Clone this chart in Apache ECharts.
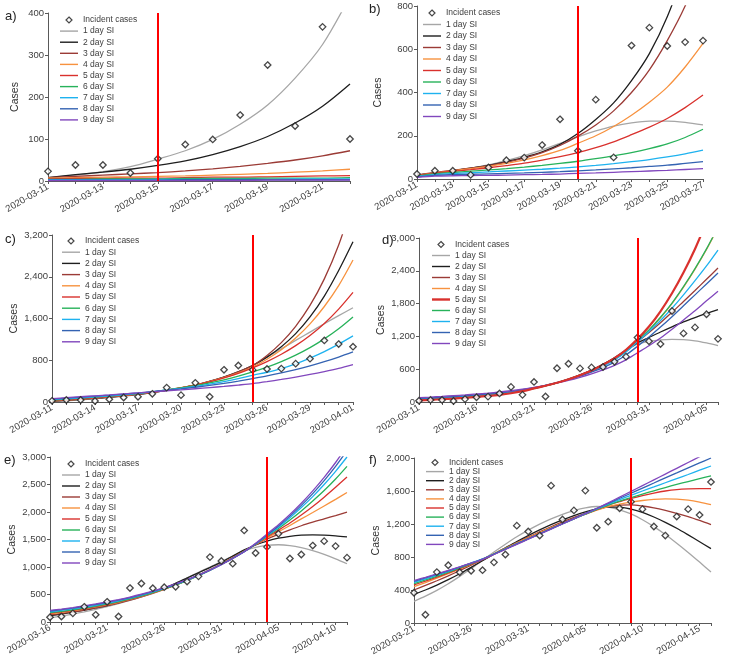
<!DOCTYPE html>
<html><head><meta charset="utf-8">
<script src="https://cdn.jsdelivr.net/npm/echarts@6/dist/echarts.min.js"></script>
<style>html,body{margin:0;padding:0;background:#fff}#c{width:733px;height:669px}</style>
</head><body><div id="c"></div>
<script>
// ---------- categories ----------
const dates = ['2020-03-11','2020-03-12','2020-03-13','2020-03-14','2020-03-15','2020-03-16','2020-03-17','2020-03-18','2020-03-19','2020-03-20',
 '2020-03-21','2020-03-22','2020-03-23','2020-03-24','2020-03-25','2020-03-26','2020-03-27','2020-03-28','2020-03-29','2020-03-30','2020-03-31',
 '2020-04-01','2020-04-02','2020-04-03','2020-04-04','2020-04-05','2020-04-06','2020-04-07','2020-04-08','2020-04-09','2020-04-10',
 '2020-04-11','2020-04-12','2020-04-13','2020-04-14','2020-04-15','2020-04-16'];
// ---------- observed incident cases ----------
const incident = [23,38,38,19,53,87,99,157,276,131,367,100,617,700,615,633,640,735,830,1180,1110,
 1060,1665,1255,1365,1605,1155,1228,1390,1470,1380,1170,1060,1290,1380,1310,1710];
const siNames = ['1 day SI','2 day SI','3 day SI','4 day SI','5 day SI','6 day SI','7 day SI','8 day SI','9 day SI'];

// ---------- panel a (2020-03-11 .. 2020-03-22) ----------
const aSI = [
 [8,14,22,34,52,72,99,135,181,245,325,440],
 [8,15,21,28,37,48,63,82,106,138,178,231],
 [8,11,14,17,20,24,29,35,42,50,60,72],
 [7,8,9,10,11,12,14,16,18,21,24,28],
 [5,6,6,7,7,8,9,9,10,11,12,13],
 [4,4,5,5,5,6,6,6,7,7,7,8],
 [3,3,3,3,4,4,4,4,4,5,5,5],
 [2,2,2,2,2,3,3,3,3,3,3,3],
 [1,1,1,1,1,1,1,1,2,2,2,2]
];
// ---------- panel b (2020-03-11 .. 2020-03-27) ----------
const bSI = [
 [18,27,37,50,65,85,108,135,165,195,222,245,260,268,268,262,250],
 [18,28,38,50,63,80,100,125,160,210,275,352,455,580,750,980,1280],
 [18,30,40,50,62,78,97,122,155,198,250,315,400,505,640,800,1000],
 [15,28,38,48,58,72,88,108,132,165,200,243,295,355,425,518,627],
 [15,27,35,43,52,62,73,87,103,122,145,172,205,240,280,330,388],
 [14,24,30,36,42,48,55,63,72,82,94,107,122,140,162,192,230],
 [12,20,25,29,33,37,41,45,50,56,63,71,80,90,102,116,133],
 [10,17,20,22,24,26,28,31,34,38,42,47,52,58,64,72,80],
 [8,13,15,16,17,18,20,21,23,26,28,31,34,37,40,44,48]
];
// ---------- panel c (2020-03-11 .. 2020-04-01) ----------
const cSI = [
 [8,24,42,62,85,110,140,178,222,270,328,398,480,582,700,860,1020,1180,1340,1500,1655,1805],
 [15,32,50,70,92,117,146,182,225,272,328,397,479,579,700,860,1060,1310,1630,2030,2520,3070],
 [20,36,54,74,96,121,150,185,225,272,328,397,479,579,700,893,1138,1451,1850,2359,3008,3835],
 [22,39,57,77,100,125,154,188,228,273,327,391,468,560,670,820,1000,1225,1497,1830,2230,2720],
 [25,42,60,80,102,127,156,190,228,272,324,386,460,549,655,775,915,1080,1275,1505,1780,2100],
 [38,55,73,92,113,136,163,195,232,270,314,366,426,496,576,668,775,899,1043,1210,1404,1630],
 [45,62,80,99,119,141,166,196,230,263,300,343,392,448,512,570,640,730,840,965,1108,1267],
 [55,73,92,111,131,152,174,198,225,252,283,317,356,400,449,500,558,622,694,773,862,960],
 [65,83,101,119,137,156,175,195,216,234,254,276,299,325,353,390,432,478,528,584,646,718]
];
// ---------- panel d (2020-03-11 .. 2020-04-06) ----------
const dSI = [
 [40,52,64,78,94,112,132,155,182,215,255,300,355,420,495,585,690,810,955,1060,1110,1138,1147,1142,1120,1080,1030],
 [35,46,58,71,86,103,122,144,171,205,248,296,352,418,495,585,690,810,940,1080,1180,1280,1375,1465,1545,1620,1690],
 [40,51,62,75,89,105,123,145,172,207,250,298,352,415,488,572,670,785,925,1100,1270,1450,1640,1840,2040,2245,2450],
 [38,48,59,71,85,101,120,142,170,205,250,298,352,415,488,572,672,790,935,1120,1310,1540,1800,2100,2430,2790,3190],
 [30,40,51,63,77,93,111,132,160,198,248,298,352,415,490,575,680,800,955,1150,1380,1660,1990,2370,2800,3300,3850],
 [45,56,67,80,94,110,128,150,177,210,253,300,352,414,485,568,666,782,925,1130,1320,1550,1810,2110,2440,2800,3200],
 [55,66,77,90,104,120,138,159,185,217,257,302,353,413,482,562,655,770,915,1100,1290,1490,1715,1960,2220,2490,2780],
 [65,76,88,101,115,131,149,170,195,226,263,305,353,408,472,548,630,730,860,1020,1190,1370,1560,1760,1960,2160,2360],
 [80,91,103,116,130,146,163,183,206,234,267,305,348,396,452,515,588,670,770,900,1030,1170,1330,1500,1670,1850,2025]
];
// ---------- panel e (2020-03-16 .. 2020-04-11) ----------
const eSI = [
 [75,108,145,186,231,280,334,393,458,530,610,705,803,902,1000,1098,1200,1290,1355,1395,1405,1390,1352,1296,1228,1148,1059],
 [115,145,178,215,256,300,352,410,473,542,615,705,800,895,990,1088,1200,1310,1400,1470,1523,1558,1578,1585,1580,1566,1546],
 [130,155,184,217,255,298,345,398,457,522,594,673,760,853,953,1060,1172,1290,1405,1510,1595,1675,1750,1815,1875,1935,1996],
 [150,175,204,236,273,314,359,410,466,528,597,673,757,848,946,1052,1165,1285,1408,1530,1640,1755,1875,1990,2110,2230,2355],
 [160,185,213,245,281,321,366,416,471,532,600,675,758,848,946,1052,1165,1285,1412,1545,1670,1800,1945,2100,2270,2450,2635],
 [170,195,223,254,289,328,372,420,474,534,600,673,754,843,940,1046,1160,1282,1415,1560,1700,1855,2020,2200,2390,2600,2830],
 [185,210,238,269,304,343,386,434,487,546,611,683,762,849,944,1048,1160,1280,1418,1570,1725,1895,2080,2280,2500,2740,3000],
 [200,225,253,284,318,356,398,445,497,555,619,689,766,851,944,1046,1158,1278,1420,1580,1745,1925,2120,2335,2570,2830,3115],
 [210,235,263,294,328,366,408,454,505,562,625,694,770,853,944,1044,1155,1277,1430,1600,1770,1955,2160,2385,2630,2900,3200]
];
// ---------- panel f (2020-03-21 .. 2020-04-16) ----------
const fSI = [
 [262,325,395,475,565,660,760,860,955,1045,1125,1198,1262,1318,1362,1395,1412,1405,1372,1322,1252,1168,1072,966,855,738,618],
 [345,400,460,525,597,675,755,835,912,988,1060,1128,1192,1250,1302,1346,1382,1405,1405,1380,1340,1285,1220,1148,1068,985,901],
 [400,455,512,572,635,700,767,836,905,973,1040,1105,1167,1225,1280,1330,1375,1410,1430,1432,1418,1395,1365,1330,1290,1243,1192],
 [440,490,543,598,655,714,775,840,905,970,1033,1095,1155,1212,1266,1318,1367,1410,1442,1466,1485,1498,1504,1502,1490,1466,1434],
 [462,508,556,606,659,714,771,834,897,960,1022,1084,1145,1205,1263,1320,1375,1428,1470,1510,1545,1575,1600,1617,1626,1630,1628],
 [478,522,568,616,667,720,775,836,898,960,1021,1082,1143,1203,1262,1320,1378,1430,1477,1520,1562,1603,1642,1680,1715,1750,1782],
 [492,535,580,627,676,727,778,836,897,958,1019,1080,1141,1202,1262,1322,1382,1440,1495,1548,1600,1650,1700,1750,1800,1852,1903],
 [505,546,589,633,678,725,774,834,896,958,1020,1081,1143,1205,1267,1328,1390,1450,1512,1573,1635,1697,1760,1820,1880,1940,2000],
 [515,554,595,637,681,726,772,830,891,953,1015,1077,1139,1201,1263,1325,1388,1456,1526,1595,1665,1735,1805,1875,1945,2015,2085]
];

// ---------- styling / layout ----------
const siColors = ['#a6a6a6','#1e1e1e','#9b3b36','#f7923f','#d9312d','#27b25a','#1eb2ef','#3463b2','#8147bd'];
const FONT = 'Liberation Sans, Arial, sans-serif';
const panels = [
 {lab:'a)', start:0,  end:11, red:'2020-03-15', si:aSI, ymax:400,  yint:100, labInt:1, grid:{left:48,top:13,width:302,height:168}, lg:{left:60,top:15.5,gap:2.1},  labPos:[5,10],   nameGap:27},
 {lab:'b)', start:0,  end:16, red:'2020-03-20', si:bSI, ymax:800,  yint:200, labInt:1, grid:{left:417,top:6,width:286,height:173}, lg:{left:423,top:8.5,gap:2.5},  labPos:[369,3],  nameGap:33},
 {lab:'c)', start:0,  end:21, red:'2020-03-25', si:cSI, ymax:3200, yint:800, labInt:2, grid:{left:52,top:235,width:301,height:167}, lg:{left:62,top:236.5,gap:2.2}, labPos:[5,233], nameGap:32},
 {lab:'d)', start:0,  end:26, red:'2020-03-30', si:dSI, ymax:3000, yint:600, labInt:4, grid:{left:419,top:238,width:299,height:164}, lg:{left:432,top:240,gap:2.0}, labPos:[382,234], nameGap:32},
 {lab:'e)', start:5,  end:31, red:'2020-04-04', si:eSI, ymax:3000, yint:500, labInt:4, grid:{left:50,top:457,width:297,height:165}, lg:{left:62,top:459.5,gap:2.0}, labPos:[4,454], nameGap:32},
 {lab:'f)', start:10, end:36, red:'2020-04-09', si:fSI, ymax:2000, yint:400, labInt:4, grid:{left:414,top:458,width:297,height:165}, lg:{left:426,top:458,gap:0.1}, labPos:[369,454], nameGap:32}
];

const grid = [], xAxis = [], yAxis = [], series = [], legend = [], graphic = [];
const axisCol = '#595959';
const diamondIcon = 'path://M5,0L10,5L5,10L0,5Z';
panels.forEach((p, i) => {
  grid.push(Object.assign({outerBoundsMode:'none', containLabel:false}, p.grid));
  xAxis.push({type:'category', gridIndex:i, data:dates.slice(p.start, p.end+1), boundaryGap:false,
    axisLine:{show:true, onZero:false, lineStyle:{color:axisCol, width:1}},
    axisTick:{show:true, interval:0, length:3, lineStyle:{color:axisCol}},
    axisLabel:{interval:p.labInt, rotate:30, fontSize:9.5, color:'#404040', margin:5, fontFamily:FONT, hideOverlap:false},
    splitLine:{show:false}});
  yAxis.push({type:'value', gridIndex:i, min:0, max:p.ymax, interval:p.yint,
    axisLine:{show:true, lineStyle:{color:axisCol, width:1}},
    axisTick:{show:true, length:3, lineStyle:{color:axisCol}},
    axisLabel:{fontSize:9.5, color:'#404040', margin:4, fontFamily:FONT, formatter:v => v.toLocaleString('en-US')},
    splitLine:{show:false},
    name:'Cases', nameLocation:'middle', nameGap:p.nameGap,
    nameTextStyle:{fontSize:10.5, color:'#333', fontFamily:FONT}});
  const lgData = [{name:'Incident cases', icon:diamondIcon,
    itemStyle:{color:'#ffffff', borderColor:'#1a1a1a', borderWidth:1.2}}];
  p.si.forEach((arr, k) => {
    const thick = (i === 3 && k === 4);
    const w = thick ? 2.2 : 1.3;
    series.push({type:'line', name:siNames[k], xAxisIndex:i, yAxisIndex:i, data:arr,
      symbol:'none', smooth:0.3, clip:true, animation:false, silent:true,
      lineStyle:{color:siColors[k], width:w}, itemStyle:{color:siColors[k]}, z: thick ? 3 : 2});
    lgData.push({name:siNames[k], icon: thick ? 'path://M0,0H18V2.4H0Z' : 'path://M0,0H18V1.4H0Z',
      itemStyle:{color:siColors[k], borderWidth:0}});
  });
  series.push({type:'scatter', name:'Incident cases', xAxisIndex:i, yAxisIndex:i,
    data:incident.slice(p.start, p.end+1), symbol:'diamond', symbolSize:6.5, animation:false, silent:true,
    itemStyle:{color:'#ffffff', borderColor:'#1a1a1a', borderWidth:1.3}, z:4,
    markLine:{silent:true, symbol:['none','none'], animation:false, label:{show:false},
      lineStyle:{color:'#ff0000', width:2, type:'solid'}, data:[{xAxis:p.red}]}});
  legend.push({orient:'vertical', left:p.lg.left, top:p.lg.top, padding:0,
    itemWidth:18, itemHeight:6, itemGap:p.lg.gap, selectedMode:false,
    data:lgData,
    textStyle:{fontSize:8.5, color:'#404040', fontFamily:FONT}});
  graphic.push({type:'text', left:p.labPos[0], top:p.labPos[1],
    style:{text:p.lab, fontSize:13, fontFamily:FONT, fill:'#222'}});
});

const chart = echarts.init(document.getElementById('c'), null, {renderer:'canvas'});
chart.setOption({animation:false, backgroundColor:'#fff', textStyle:{fontFamily:FONT},
  grid, xAxis, yAxis, series, legend, graphic});
</script></body></html>
